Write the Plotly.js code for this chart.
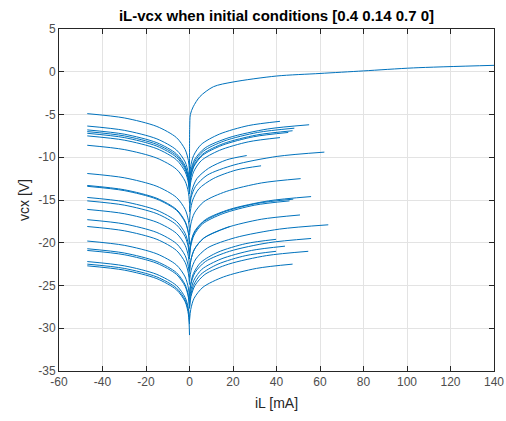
<!DOCTYPE html>
<html>
<head>
<meta charset="utf-8">
<script src="https://cdn.plot.ly/plotly-3.0.1.min.js"></script>
<style>html,body{margin:0;padding:0;background:#fff;}#chart{width:506px;height:421px;}</style>
</head>
<body>
<div id="chart"></div>
<script>
// Left branches: shared iL samples (mA), vcx values (V) read per branch
const leftX = [-47, -30, -15, -6, -2, -0.5, 0];
const leftY = [
  [-4.9, -5.4, -6.4, -7.7, -9.1, -10.4, -11.7],
  [-6.35, -6.85, -7.85, -9.15, -10.55, -11.85, -13.15],
  [-6.8, -7.3, -8.3, -9.6, -11.0, -12.3, -13.6],
  [-7.0, -7.5, -8.5, -9.8, -11.2, -12.5, -13.8],
  [-7.2, -7.7, -8.7, -10.0, -11.4, -12.7, -14.0],
  [-7.5, -8.0, -9.0, -10.3, -11.7, -13.0, -14.3],
  [-8.6, -9.1, -10.1, -11.4, -12.8, -14.1, -15.4],
  [-11.9, -12.4, -13.4, -14.7, -16.1, -17.4, -18.7],
  [-13.3, -13.8, -14.8, -16.1, -17.5, -18.8, -20.1],
  [-13.4, -13.9, -14.9, -16.2, -17.6, -18.9, -20.2],
  [-14.7, -15.2, -16.2, -17.5, -18.9, -20.2, -21.5],
  [-15.1, -15.6, -16.6, -17.9, -19.3, -20.6, -21.9],
  [-16.1, -16.6, -17.6, -18.9, -20.3, -21.6, -22.9],
  [-17.3, -17.8, -18.8, -20.1, -21.5, -22.8, -24.1],
  [-18.1, -18.6, -19.6, -20.9, -22.3, -23.6, -24.9],
  [-19.8, -20.3, -21.3, -22.6, -24.0, -25.3, -26.6],
  [-20.7, -21.2, -22.2, -23.5, -24.9, -26.2, -27.5],
  [-20.9, -21.4, -22.4, -23.7, -25.1, -26.4, -27.7],
  [-22.2, -22.7, -23.7, -25.0, -26.4, -27.7, -29.0],
  [-22.5, -23.0, -24.0, -25.3, -26.7, -28.0, -29.5],
  [-22.7, -23.2, -24.2, -25.5, -26.9, -28.4, -30.8]
];
// Right branches: iL samples and vcx values read per branch
const rightX = [
  [41.6, 27.0, 13.7, 5.4, 1.9, 0.5, 0],
  [55, 35.8, 18.2, 7.2, 2.5, 0.66, 0],
  [48.2, 31.3, 15.9, 6.3, 2.2, 0.58, 0],
  [47.4, 30.8, 15.6, 6.2, 2.1, 0.57, 0],
  [45.4, 29.5, 15.0, 5.9, 2.0, 0.54, 0],
  [41.6, 27.0, 13.7, 5.4, 1.9, 0.5, 0],
  [62, 40.3, 20.5, 8.1, 2.8, 0.74, 0],
  [26.3, 17.1, 8.7, 3.4, 1.2, 0.32, 0],
  [32.9, 21.4, 10.9, 4.3, 1.5, 0.39, 0],
  [51.1, 33.2, 16.9, 6.6, 2.3, 0.61, 0],
  [55.9, 36.3, 18.4, 7.3, 2.5, 0.67, 0],
  [47.7, 31.0, 15.7, 6.2, 2.1, 0.57, 0],
  [46.0, 30.0, 15.3, 6.0, 2.1, 0.55, 0],
  [50.8, 33.0, 16.8, 6.6, 2.3, 0.61, 0],
  [63.8, 41.5, 21.1, 8.3, 2.9, 0.77, 0],
  [18.6, 6.6, 2.3, 0.61, 0],
  [39.8, 25.9, 13.1, 5.2, 1.8, 0.48, 0],
  [55.9, 36.3, 18.4, 7.3, 2.5, 0.67, 0],
  [43.9, 28.5, 14.5, 5.7, 2.0, 0.53, 0],
  [39.8, 25.9, 13.1, 5.2, 1.8, 0.48, 0],
  [54.6, 35.5, 18.0, 7.1, 2.5, 0.66, 0],
  [47.4, 30.8, 15.6, 6.2, 2.1, 0.57, 0]
];
const rightY = [
  [-5.8, -6.3, -7.3, -8.5, -9.8, -11.1, -12.4],
  [-6.2, -6.7, -7.7, -8.9, -10.2, -11.5, -12.8],
  [-6.6, -7.1, -8.1, -9.3, -10.6, -11.9, -13.2],
  [-6.9, -7.4, -8.4, -9.6, -10.9, -12.2, -13.5],
  [-7.1, -7.6, -8.6, -9.8, -11.1, -12.4, -13.7],
  [-7.7, -8.2, -9.2, -10.4, -11.7, -13.0, -14.3],
  [-9.4, -9.9, -10.9, -12.1, -13.4, -14.7, -16.0],
  [-9.8, -10.3, -11.3, -12.5, -13.8, -15.1, -16.4],
  [-11.0, -11.5, -12.5, -13.7, -15.0, -16.3, -17.6],
  [-12.5, -13.0, -14.0, -15.2, -16.5, -17.8, -19.1],
  [-14.6, -15.1, -16.1, -17.3, -18.6, -19.9, -21.2],
  [-14.9, -15.4, -16.4, -17.6, -18.9, -20.2, -21.5],
  [-15.1, -15.6, -16.6, -17.8, -19.1, -20.4, -21.7],
  [-16.75, -17.25, -18.25, -19.45, -20.75, -22.05, -23.35],
  [-17.9, -18.4, -19.4, -20.6, -21.9, -23.2, -24.5],
  [-18.1, -19.45, -20.75, -22.05, -23.35],
  [-19.6, -20.1, -21.1, -22.3, -23.6, -24.9, -26.2],
  [-19.5, -20.0, -21.0, -22.2, -23.5, -24.8, -26.1],
  [-20.4, -20.9, -21.9, -23.1, -24.4, -25.7, -27.0],
  [-21.0, -21.5, -22.5, -23.7, -25.0, -26.3, -27.6],
  [-21.0, -21.5, -22.5, -23.7, -25.0, -26.3, -27.6],
  [-22.5, -23.0, -24.0, -25.2, -26.5, -27.8, -29.1]
];
// Long upper trajectory
const topX = [0, 0.02, 0.1, 0.4, 1.7, 4.8, 11, 20, 40, 60, 80, 103, 140];
const topY = [-12, -9, -6.5, -5.0, -4.1, -2.9, -1.75, -1.2, -0.5, -0.2, 0.1, 0.45, 0.75];

const xTicks = [-60, -40, -20, 0, 20, 40, 60, 80, 100, 120, 140];
const yTicks = [-35, -30, -25, -20, -15, -10, -5, 0, 5];

const lineStyle = {color: '#0072BD', width: 1, shape: 'spline', smoothing: 0.8};
const traces = [];
leftY.forEach(ys => traces.push({x: leftX, y: ys, mode: 'lines', line: lineStyle, hoverinfo: 'skip'}));
rightX.forEach((xs, i) => traces.push({x: xs, y: rightY[i], mode: 'lines', line: lineStyle, hoverinfo: 'skip'}));
traces.push({x: topX, y: topY, mode: 'lines', line: lineStyle, hoverinfo: 'skip'});

const font = 'Liberation Sans, Arial, sans-serif';
const axisCommon = {
  showline: true, mirror: 'ticks', linecolor: '#262626', linewidth: 1,
  ticks: 'inside', ticklen: 5, tickcolor: '#262626',
  showgrid: true, gridcolor: '#e3e3e3', gridwidth: 1,
  zeroline: false, tickfont: {family: font, size: 12, color: '#4d4d4d'},
  fixedrange: true
};
const layout = {
  width: 506, height: 421,
  margin: {l: 59, r: 12, t: 29, b: 50},
  paper_bgcolor: '#ffffff', plot_bgcolor: '#ffffff',
  showlegend: false,
  title: {text: 'iL-vcx when initial conditions [0.4 0.14 0.7 0]', x: 0.5, xref: 'paper', y: 0.975, yref: 'container',
          font: {family: font, size: 15, color: '#000', weight: 'bold'}},
  xaxis: Object.assign({}, axisCommon, {range: [-60, 140], tickvals: xTicks, ticktext: xTicks.map(String),
          title: {text: 'iL [mA]', font: {family: font, size: 14, color: '#262626'}, standoff: 9}}),
  yaxis: Object.assign({}, axisCommon, {range: [-35, 5], tickvals: yTicks, ticktext: yTicks.map(String),
          title: {text: 'vcx [V]', font: {family: font, size: 14, color: '#262626'}, standoff: 5}})
};
Plotly.newPlot('chart', traces, layout, {staticPlot: true, displayModeBar: false});
</script>
</body>
</html>
